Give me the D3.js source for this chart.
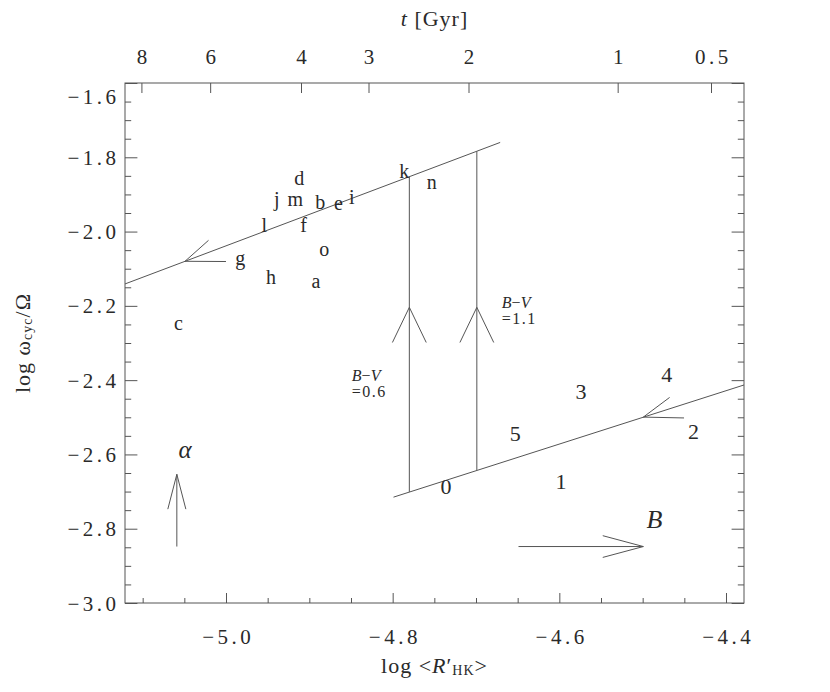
<!DOCTYPE html>
<html><head><meta charset="utf-8">
<script src="https://cdn.jsdelivr.net/npm/d3@7"></script>
<style>body{margin:0;background:#fff}</style>
</head><body><svg id="c" width="830" height="692"></svg>
<script>
// ---------- data ----------
const xDomain = [-5.1212, -4.3784];
const yDomain = [-3.0, -1.6];
const xTickValues = [-5.0, -4.8, -4.6, -4.4];
const yTickValues = [-3.0, -2.8, -2.6, -2.4, -2.2, -2.0, -1.8, -1.6];
const ageTickLabels = ["8", "6", "4", "3", "2", "1", "0.5"];
const ageTickLogR = [-5.1015, -5.019, -4.910, -4.829, -4.709, -4.530, -4.418];

const starIds  = ["a", "b", "c", "d", "e", "f", "g", "h", "i", "j", "m", "k", "l", "n", "o"];
const starLogR = [-4.892, -4.887, -5.057, -4.912, -4.865, -4.907, -4.983, -4.946, -4.849, -4.939, -4.917, -4.786, -4.954, -4.753, -4.882];
const starLogW = [-2.132, -1.920, -2.247, -1.855, -1.922, -1.982, -2.072, -2.121, -1.906, -1.912, -1.912, -1.836, -1.982, -1.866, -2.048];

const sunIds  = ["0", "1", "2", "3", "4", "5"];
const sunLogR = [-4.736, -4.598, -4.439, -4.574, -4.471, -4.653];
const sunLogW = [-2.685, -2.673, -2.539, -2.431, -2.386, -2.543];

// branches: [logR, logW] end points
const inactiveBranch = [[-5.1212, -2.141], [-4.671, -1.760]];
const activeBranch   = [[-4.799, -2.715], [-4.3784, -2.413]];
// vertical evolution tracks (B-V = 0.6 and 1.1)
const trackLogR = [-4.780, -4.699];
const trackBottom = [-2.701, -2.642];
const trackTop = [-1.852, -1.784];
const trackLabels = ["=0.6", "=1.1"];
const trackLabelLogR = [-4.849, -4.669];
const trackLabelLogW = [-2.402, -2.206];

// arrows: tail -> tip (data), head half-angle (deg), barb lengths (px)
const arrowTail = [[-4.95, -1.996], [-4.40, -2.428], [-4.780, -2.701], [-4.699, -2.642], [-5.059, -2.848], [-4.649, -2.848]];
const arrowTip  = [[-5.0492, -2.080], [-4.4992, -2.4995], [-4.780, -2.204], [-4.699, -2.204], [-5.059, -2.6535], [-4.4992, -2.848]];
const arrowHalf = [21, 19, 25.7, 25.7, 14.5, 15];
const arrowLens = [[41, 31.5], [40.7, 32.8], [39, 39], [39, 39], [36, 36], [42, 42]];
const arrowShaft = [false, false, false, false, true, true];

const symbolText = ["α", "B"];
const symbolLogR = [-5.049, -4.486];
const symbolLogW = [-2.586, -2.775];

// ---------- drawing ----------
const svg = d3.select("#c");
const L = 125, R = 744, T = 83, Bm = 603;
const x = d3.scaleLinear().domain(xDomain).range([L, R]);
const y = d3.scaleLinear().domain(yDomain).range([Bm, T]);
const lineCol = "#555", txtCol = "#2a2a2a";
const FONT = "'Liberation Serif','DejaVu Serif',serif";

function fmt(v) { return (v < 0 ? "\u2212" : "") + Math.abs(v).toFixed(1); }

const minorX = d3.range(-102, -87).filter(k => k % 4 !== 0).map(k => k * 0.05);
const minorY = d3.range(-60, -31).filter(k => k % 4 !== 0).map(k => k * 0.05);

function styleAxis(g) {
  g.select(".domain").remove();
  g.selectAll("line").attr("stroke", lineCol);
  g.selectAll("text").attr("fill", txtCol).style("font-family", FONT).style("font-size", "21px").style("letter-spacing", "3.5px");
}

// left axis
const gl = svg.append("g").attr("transform", `translate(${L},0)`)
  .call(d3.axisLeft(y).tickValues(yTickValues).tickSize(-12.4).tickPadding(9).tickFormat(fmt));
styleAxis(gl);
gl.selectAll("text").attr("dy", null).attr("dominant-baseline", "central")
  .attr("y", d => Math.max(0, (y(-1.6) + 13) - y(d))).attr("dx", "3.5px");
svg.append("g").attr("transform", `translate(${L},0)`)
  .call(d3.axisLeft(y).tickValues(minorY).tickSize(-6.2).tickFormat("")).call(styleAxis);

// right axis
svg.append("g").attr("transform", `translate(${R},0)`)
  .call(d3.axisRight(y).tickValues(yTickValues).tickSize(-12.4).tickFormat("")).call(styleAxis);
svg.append("g").attr("transform", `translate(${R},0)`)
  .call(d3.axisRight(y).tickValues(minorY).tickSize(-6.2).tickFormat("")).call(styleAxis);

// bottom axis
const gb = svg.append("g").attr("transform", `translate(0,${Bm})`)
  .call(d3.axisBottom(x).tickValues(xTickValues).tickSize(-10).tickFormat(fmt));
styleAxis(gb);
gb.selectAll("text").attr("y", 34).attr("dy", null).attr("dominant-baseline", "central").attr("dx", "1.75px");
svg.append("g").attr("transform", `translate(0,${Bm})`)
  .call(d3.axisBottom(x).tickValues(minorX).tickSize(-5).tickFormat("")).call(styleAxis);

// top axis (age)
const gt = svg.append("g").attr("transform", `translate(0,${T})`)
  .call(d3.axisTop(x).tickValues(ageTickLogR).tickSize(-10).tickFormat((d, i) => ageTickLabels[i]));
styleAxis(gt);
gt.selectAll("text").attr("y", -26.5).attr("dy", null).attr("dominant-baseline", "central").attr("dx", "1.75px");

// frame
svg.append("rect").attr("x", L).attr("y", T).attr("width", R - L).attr("height", Bm - T)
  .attr("fill", "none").attr("stroke", lineCol).attr("stroke-width", 1);

// axis titles
const tt = svg.append("text").attr("x", (L + R) / 2).attr("y", 18).attr("text-anchor", "middle")
  .attr("dominant-baseline", "central").attr("fill", txtCol).style("font-family", FONT).style("font-size", "22px").style("letter-spacing", "1px");
tt.append("tspan").style("font-style", "italic").text("t");
tt.append("tspan").text(" [Gyr]");

const xt = svg.append("text").attr("x", (L + R) / 2).attr("y", 665).attr("text-anchor", "middle")
  .attr("dominant-baseline", "central").attr("fill", txtCol).style("font-family", FONT).style("font-size", "22px").style("letter-spacing", "1px");
xt.append("tspan").text("log <");
xt.append("tspan").style("font-style", "italic").text("R");
xt.append("tspan").text("′");
xt.append("tspan").attr("dy", 5).style("font-size", "14px").text("HK");
xt.append("tspan").attr("dy", -5).text(">");

const yt = svg.append("text").attr("transform", `translate(22,${(T + Bm) / 2}) rotate(-90)`)
  .attr("text-anchor", "middle").attr("dominant-baseline", "central").attr("fill", txtCol)
  .style("font-family", FONT).style("font-size", "22px").style("letter-spacing", "1px");
yt.append("tspan").text("log ω");
yt.append("tspan").attr("dy", 5).style("font-size", "14px").text("cyc");
yt.append("tspan").attr("dy", -5).text("/Ω");

// branches
const lineGen = d3.line().x(d => x(d[0])).y(d => y(d[1]));
[inactiveBranch, activeBranch].forEach(b => {
  svg.append("path").attr("d", lineGen(b)).attr("fill", "none").attr("stroke", lineCol).attr("stroke-width", 1);
});

// vertical tracks
trackLogR.forEach((v, i) => {
  svg.append("line").attr("x1", x(v)).attr("x2", x(v)).attr("y1", y(trackBottom[i])).attr("y2", y(trackTop[i]))
    .attr("stroke", lineCol).attr("stroke-width", 1);
  const t = svg.append("text").attr("x", x(trackLabelLogR[i])).attr("y", y(trackLabelLogW[i]))
    .attr("fill", txtCol).style("font-family", FONT).style("font-size", "16px");
  t.append("tspan").style("font-style", "italic").text("B");
  t.append("tspan").text("\u2212");
  t.append("tspan").style("font-style", "italic").text("V");
  t.append("tspan").attr("x", x(trackLabelLogR[i])).attr("dy", 16).style("letter-spacing", "1.5px").text(trackLabels[i]);
});

// arrows
arrowTip.forEach((tip, i) => {
  const tx = x(tip[0]), ty = y(tip[1]);
  const sx = x(arrowTail[i][0]), sy = y(arrowTail[i][1]);
  if (arrowShaft[i]) {
    svg.append("line").attr("x1", sx).attr("y1", sy).attr("x2", tx).attr("y2", ty).attr("stroke", lineCol);
  }
  let bx = sx - tx, by = sy - ty; const n = Math.hypot(bx, by); bx /= n; by /= n;
  [1, -1].forEach((s, j) => {
    const a = s * arrowHalf[i] * Math.PI / 180;
    const rx = bx * Math.cos(a) - by * Math.sin(a), ry = bx * Math.sin(a) + by * Math.cos(a);
    const len = arrowLens[i][j];
    svg.append("line").attr("x1", tx).attr("y1", ty).attr("x2", tx + rx * len).attr("y2", ty + ry * len)
      .attr("stroke", lineCol).attr("stroke-width", 1);
  });
});

// labels
function labels(ids, xs, ys, size) {
  svg.append("g").selectAll("text").data(ids).join("text")
    .attr("x", (d, i) => x(xs[i])).attr("y", (d, i) => y(ys[i]))
    .attr("text-anchor", "middle").attr("dominant-baseline", "central")
    .attr("fill", txtCol).style("font-family", FONT).style("font-size", size)
    .text(d => d);
}
labels(starIds, starLogR, starLogW, "20px");
labels(sunIds, sunLogR, sunLogW, "22px");
svg.append("g").selectAll("text").data(symbolText).join("text")
  .attr("x", (d, i) => x(symbolLogR[i])).attr("y", (d, i) => y(symbolLogW[i]))
  .attr("text-anchor", "middle").attr("dominant-baseline", "central")
  .attr("fill", txtCol).style("font-family", FONT).style("font-style", "italic")
  .style("font-size", (d, i) => i === 0 ? "25px" : "26px").text(d => d);
</script></body></html>
